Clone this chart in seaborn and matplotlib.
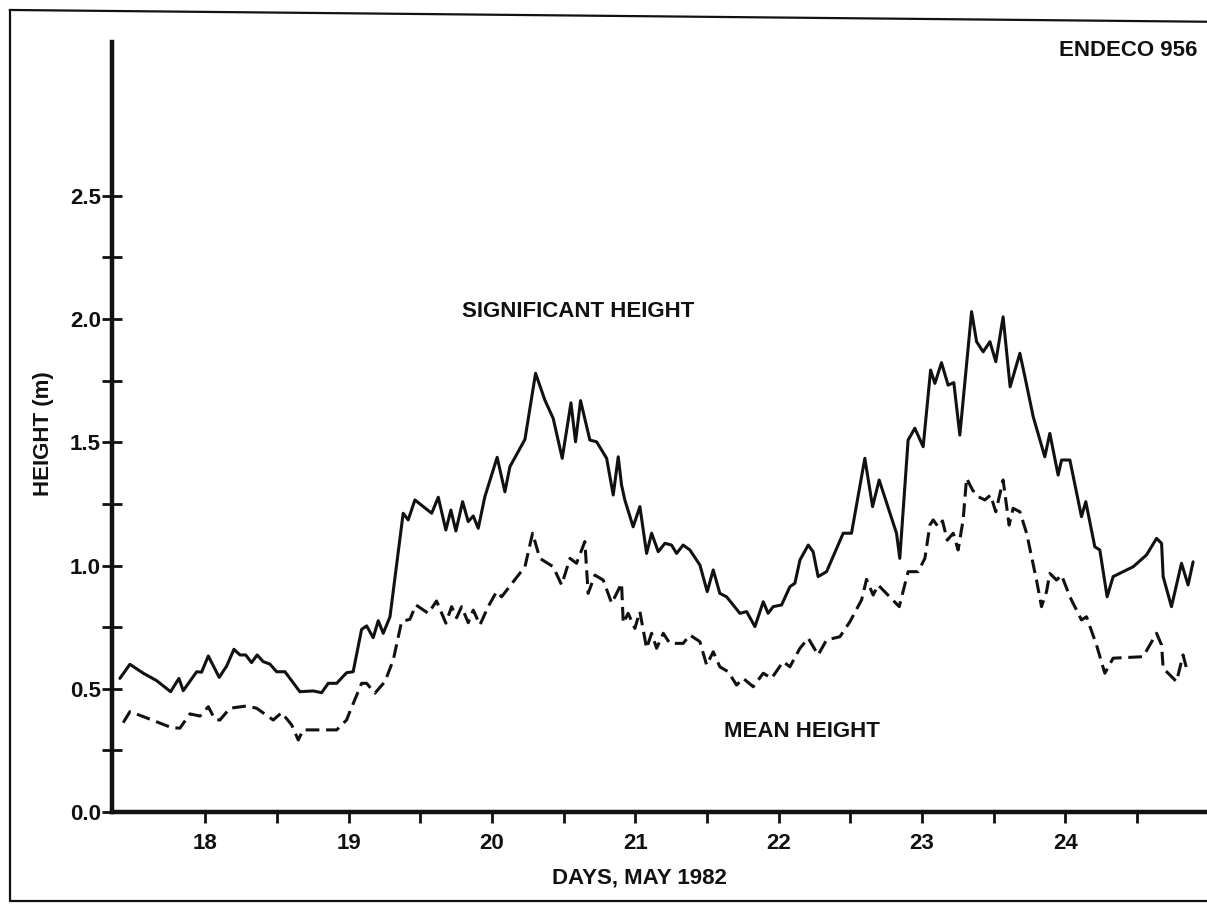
import matplotlib
matplotlib.use("Agg")
import matplotlib.pyplot as plt
from matplotlib.lines import Line2D
import seaborn as sns
import pandas as pd

# significant wave height (day of May 1982, metres)
sig_days = [17.403, 17.473, 17.566, 17.659, 17.757, 17.815, 17.845, 17.939, 17.973, 18.020,
            18.096, 18.148, 18.199, 18.241, 18.281, 18.322, 18.361, 18.403, 18.450, 18.497,
            18.555, 18.659, 18.752, 18.811, 18.857, 18.916, 18.985, 19.031, 19.090, 19.125,
            19.171, 19.206, 19.241, 19.288, 19.322, 19.380, 19.415, 19.462, 19.520, 19.579,
            19.625, 19.678, 19.713, 19.748, 19.795, 19.834, 19.869, 19.904, 19.950, 20.036,
            20.090, 20.125, 20.230, 20.304, 20.369, 20.427, 20.490, 20.551, 20.583, 20.618,
            20.683, 20.730, 20.800, 20.846, 20.881, 20.904, 20.927, 20.985, 21.032, 21.079,
            21.114, 21.160, 21.207, 21.253, 21.288, 21.334, 21.381, 21.451, 21.502, 21.544,
            21.590, 21.637, 21.730, 21.777, 21.835, 21.893, 21.927, 21.962, 22.021, 22.079,
            22.114, 22.149, 22.207, 22.241, 22.276, 22.335, 22.451, 22.509, 22.602, 22.656,
            22.702, 22.789, 22.823, 22.846, 22.904, 22.951, 23.009, 23.061, 23.091, 23.137,
            23.183, 23.223, 23.265, 23.347, 23.382, 23.428, 23.475, 23.516, 23.567, 23.616,
            23.684, 23.719, 23.777, 23.858, 23.893, 23.951, 23.975, 24.033, 24.114, 24.144,
            24.207, 24.242, 24.293, 24.335, 24.475, 24.568, 24.638, 24.673, 24.684, 24.742,
            24.812, 24.858, 24.893]
sig_height = [0.542, 0.599, 0.563, 0.533, 0.488, 0.542, 0.492, 0.569, 0.567, 0.633,
              0.546, 0.592, 0.660, 0.637, 0.637, 0.606, 0.637, 0.610, 0.600, 0.569,
              0.569, 0.488, 0.491, 0.484, 0.522, 0.522, 0.565, 0.569, 0.741, 0.755,
              0.707, 0.776, 0.725, 0.792, 0.948, 1.212, 1.185, 1.266, 1.239, 1.212,
              1.277, 1.144, 1.225, 1.140, 1.259, 1.178, 1.201, 1.151, 1.279, 1.439,
              1.299, 1.401, 1.512, 1.780, 1.671, 1.597, 1.435, 1.660, 1.502, 1.669,
              1.509, 1.502, 1.435, 1.286, 1.441, 1.327, 1.266, 1.157, 1.239, 1.049,
              1.131, 1.056, 1.090, 1.083, 1.049, 1.083, 1.063, 1.002, 0.894, 0.982,
              0.887, 0.873, 0.806, 0.813, 0.752, 0.853, 0.806, 0.833, 0.840, 0.914,
              0.928, 1.022, 1.083, 1.056, 0.955, 0.975, 1.131, 1.131, 1.435, 1.239,
              1.347, 1.191, 1.131, 1.029, 1.509, 1.557, 1.482, 1.793, 1.739, 1.823,
              1.732, 1.742, 1.529, 2.030, 1.908, 1.867, 1.908, 1.827, 2.009, 1.725,
              1.861, 1.766, 1.604, 1.441, 1.536, 1.367, 1.428, 1.428, 1.198, 1.259,
              1.076, 1.063, 0.873, 0.955, 0.995, 1.043, 1.110, 1.090, 0.955, 0.833,
              1.009, 0.921, 1.015]

# mean wave height
mean_days = [17.426, 17.473, 17.566, 17.659, 17.764, 17.822, 17.892, 17.962, 18.020, 18.066,
             18.101, 18.171, 18.288, 18.357, 18.473, 18.532, 18.602, 18.648, 18.682, 18.916,
             18.985, 19.008, 19.090, 19.125, 19.183, 19.253, 19.311, 19.369, 19.427, 19.469,
             19.555, 19.613, 19.678, 19.718, 19.753, 19.788, 19.834, 19.869, 19.916, 19.973,
             20.032, 20.067, 20.148, 20.230, 20.283, 20.334, 20.427, 20.486, 20.544, 20.590,
             20.648, 20.671, 20.718, 20.776, 20.835, 20.870, 20.904, 20.916, 20.950, 20.997,
             21.032, 21.079, 21.114, 21.149, 21.195, 21.241, 21.334, 21.381, 21.451, 21.498,
             21.544, 21.590, 21.648, 21.707, 21.753, 21.823, 21.893, 21.951, 22.032, 22.079,
             22.149, 22.207, 22.276, 22.335, 22.428, 22.498, 22.579, 22.614, 22.660, 22.695,
             22.842, 22.904, 22.974, 23.021, 23.056, 23.079, 23.114, 23.144, 23.177, 23.219,
             23.253, 23.288, 23.312, 23.354, 23.393, 23.440, 23.479, 23.516, 23.567, 23.609,
             23.637, 23.684, 23.731, 23.800, 23.835, 23.870, 23.893, 23.940, 23.975, 24.033,
             24.114, 24.149, 24.219, 24.277, 24.335, 24.544, 24.638, 24.673, 24.684, 24.777,
             24.823, 24.847]
mean_height = [0.362, 0.407, 0.387, 0.366, 0.342, 0.340, 0.398, 0.389, 0.427, 0.376,
               0.373, 0.421, 0.430, 0.421, 0.373, 0.403, 0.353, 0.292, 0.333, 0.333,
               0.373, 0.407, 0.522, 0.522, 0.482, 0.529, 0.617, 0.772, 0.782, 0.840,
               0.806, 0.856, 0.766, 0.833, 0.788, 0.833, 0.768, 0.819, 0.759, 0.833,
               0.894, 0.873, 0.934, 0.995, 1.131, 1.029, 0.995, 0.921, 1.029, 1.009,
               1.097, 0.887, 0.961, 0.941, 0.847, 0.887, 0.928, 0.766, 0.806, 0.745,
               0.813, 0.664, 0.725, 0.664, 0.725, 0.684, 0.684, 0.718, 0.691, 0.596,
               0.650, 0.589, 0.569, 0.515, 0.542, 0.508, 0.563, 0.542, 0.610, 0.589,
               0.664, 0.705, 0.637, 0.698, 0.711, 0.772, 0.860, 0.944, 0.880, 0.921,
               0.833, 0.975, 0.975, 1.029, 1.164, 1.185, 1.157, 1.181, 1.103, 1.131,
               1.063, 1.185, 1.354, 1.306, 1.279, 1.266, 1.286, 1.218, 1.347, 1.164,
               1.232, 1.218, 1.131, 0.941, 0.833, 0.894, 0.968, 0.941, 0.961, 0.873,
               0.779, 0.792, 0.677, 0.563, 0.624, 0.630, 0.725, 0.677, 0.583, 0.529,
               0.637, 0.583]

day_ticks = [18, 19, 20, 21, 22, 23, 24]
day_labels = ["18", "19", "20", "21", "22", "23", "24"]
half_days = [18.5, 19.5, 20.5, 21.5, 22.5, 23.5, 24.5]
height_ticks = [0.0, 0.5, 1.0, 1.5, 2.0, 2.5]
height_labels = ["0.0", "0.5", "1.0", "1.5", "2.0", "2.5"]
quarter_heights = [0.25, 0.75, 1.25, 1.75, 2.25]

INK = "#111111"
FS = 16


def draw_frame(fig):
    # the hand-drawn border around the scanned figure
    for xs, ys in [((0.008, 1.0), (0.989, 0.976)),
                   ((0.008, 0.008), (0.989, 0.005)),
                   ((0.008, 1.0), (0.005, 0.005))]:
        fig.add_artist(Line2D(xs, ys, transform=fig.transFigure, color=INK, lw=1.6))


def main():
    sns.set_style("white")
    plt.rcParams['font.family'] = ['Liberation Sans', 'DejaVu Sans']
    plt.rcParams['font.weight'] = 'bold'

    sig = pd.DataFrame({"day": sig_days, "height": sig_height})
    mean = pd.DataFrame({"day": mean_days, "height": mean_height})

    fig = plt.figure(figsize=(12.07, 9.06), dpi=100)
    ax = fig.add_axes([0.0928, 0.1038, 0.9072, 0.8498])

    sns.lineplot(data=sig, x="day", y="height", ax=ax, color=INK, lw=2.2,
                 estimator=None, sort=False)
    sns.lineplot(data=mean, x="day", y="height", ax=ax, color=INK, lw=2.2,
                 estimator=None, sort=False, dashes=False, linestyle=(0, (4.5, 2.2)))

    ax.set_xlim(17.348, 24.99)
    ax.set_ylim(0, 3.124)

    ax.set_xticks(day_ticks)
    ax.set_xticklabels(day_labels)
    ax.set_xticks(half_days, minor=True)
    ax.set_yticks(height_ticks)
    ax.set_yticklabels(height_labels)
    ax.set_yticks(quarter_heights, minor=True)

    ax.tick_params(axis="x", which="both", bottom=True, direction="out", length=8,
                   width=2, color=INK, labelsize=FS, pad=7, labelcolor=INK)
    ax.tick_params(axis="y", which="both", left=True, direction="inout", length=14,
                   width=2, color=INK, labelsize=FS, pad=1, labelcolor=INK)

    sns.despine(ax=ax)
    for side in ["left", "bottom"]:
        ax.spines[side].set_linewidth(3.2)
        ax.spines[side].set_color(INK)

    ax.set_xlabel("")
    ax.set_ylabel("")
    fig.text(0.530, 0.031, "DAYS, MAY 1982", ha="center", va="center",
             fontsize=FS, fontweight="bold", color=INK)
    fig.text(0.036, 0.521, "HEIGHT (m)", ha="center", va="center", rotation=90,
             fontsize=FS, fontweight="bold", color=INK)

    ax.text(20.6, 2.03, "SIGNIFICANT HEIGHT", ha="center", va="center",
            fontsize=FS, fontweight="bold", color=INK)
    ax.text(22.16, 0.325, "MEAN HEIGHT", ha="center", va="center",
            fontsize=FS, fontweight="bold", color=INK)
    ax.text(24.44, 3.09, "ENDECO 956", ha="center", va="center",
            fontsize=FS, fontweight="bold", color=INK)

    draw_frame(fig)
    fig.savefig("out.png", dpi=100)
    plt.close(fig)


if __name__ == "__main__":
    main()
